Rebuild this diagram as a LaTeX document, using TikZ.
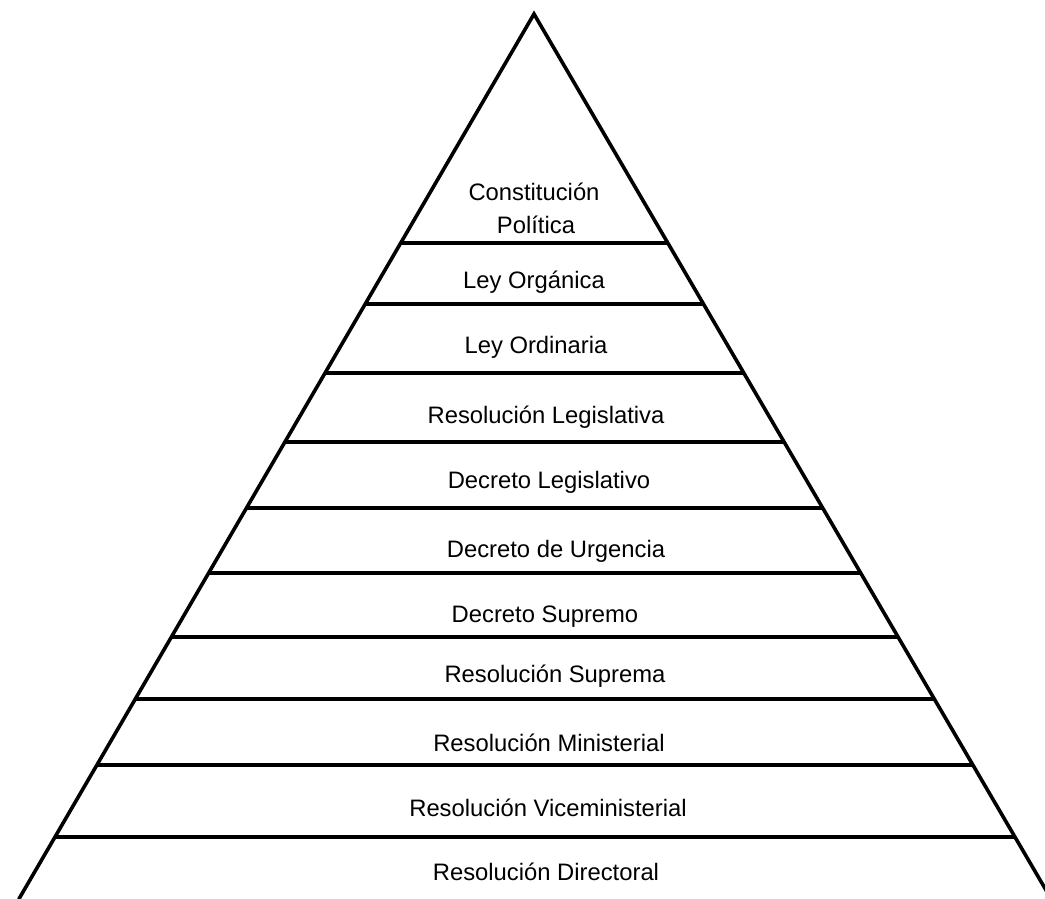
\documentclass[tikz,border=0pt]{standalone}
\usepackage{fontspec}
\setmainfont{Liberation Sans}
\usetikzlibrary{calc}
\begin{document}
\begin{tikzpicture}[x=1pt,y=-1pt,
  edge/.style={line width=3.6pt,line cap=round,line join=miter},
  level/.style={line width=3.4pt},
  lbl/.style={anchor=base,inner sep=0pt,font=\fontsize{23.8}{28}\selectfont}]
\useasboundingbox (0,0) rectangle (1045,899);
\clip (0,0) rectangle (1045,899);
\coordinate (A) at (534,14);
\coordinate (L) at (18.9,899);
\coordinate (R) at (1051.2,899);
\draw[edge] (L) -- (A) -- (R);
\foreach \yy [count=\i] in {243,304,373,442,508,573,637,699,765,837}{
  \pgfmathsetmacro{\t}{(\yy-14)/885}
  \coordinate (l\i) at ($(A)!\t!(L)$);
  \coordinate (r\i) at ($(A)!\t!(R)$);
  \draw[level] (l\i) -- (r\i);
}
\node[lbl] (t1a) at (534,200) {Constitución};
\node[lbl] (t1b) at (536,233) {Política};
\node[lbl] (t2) at (534,288) {Ley Orgánica};
\node[lbl] (t3) at (536,353) {Ley Ordinaria};
\node[lbl] (t4) at (546,423) {Resolución Legislativa};
\node[lbl] (t5) at (549,488) {Decreto Legislativo};
\node[lbl] (t6) at (556,557) {Decreto de Urgencia};
\node[lbl] (t7) at (545,622) {Decreto Supremo};
\node[lbl] (t8) at (555,682) {Resolución Suprema};
\node[lbl] (t9) at (549,751) {Resolución Ministerial};
\node[lbl] (t10) at (548,816) {Resolución Viceministerial};
\node[lbl] (t11) at (546,880) {Resolución Directoral};
\end{tikzpicture}
\end{document}
